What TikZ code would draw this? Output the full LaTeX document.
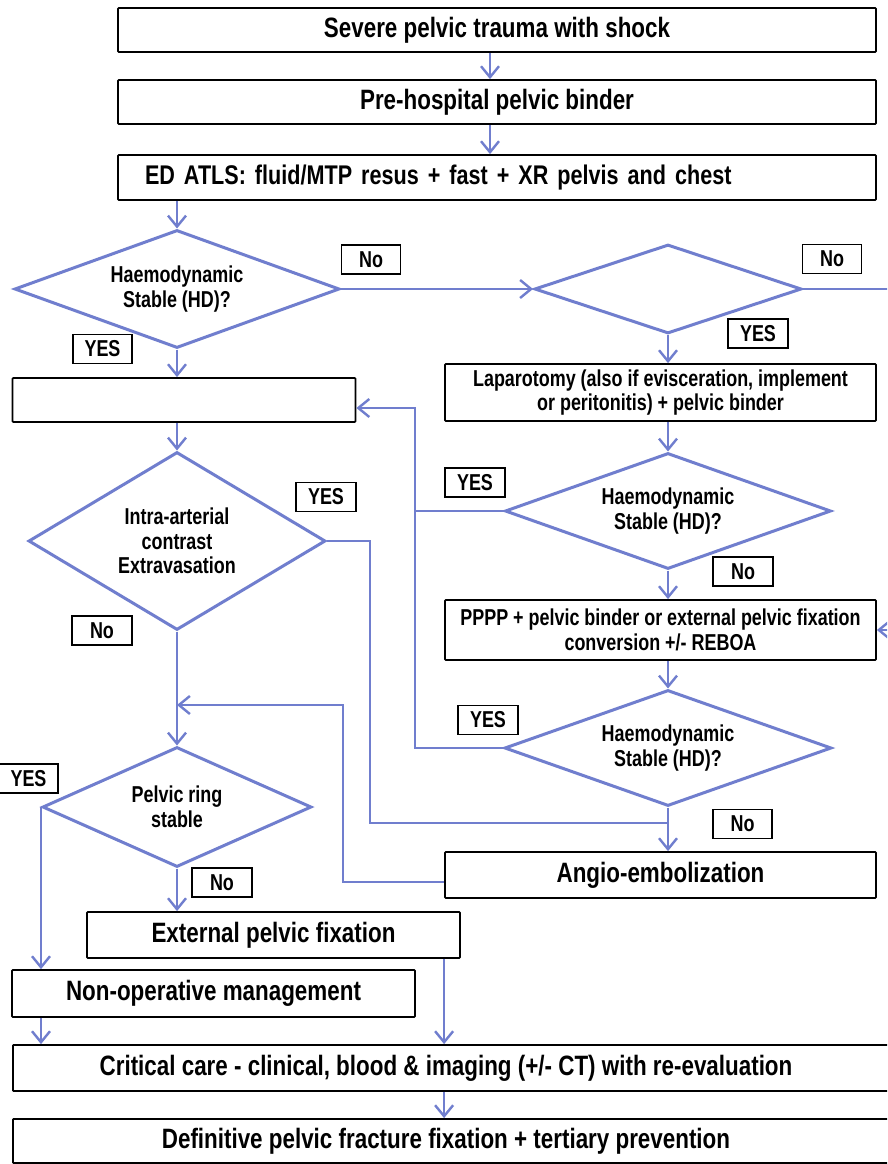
\documentclass[tikz,border=0pt]{standalone}
\usepackage{fontspec}
\setmainfont{Liberation Sans}[FakeStretch=0.8]
\newfontfamily\midfam{Liberation Sans}[FakeStretch=0.78]
\usetikzlibrary{arrows.meta,shapes.geometric,calc}
\definecolor{flowblue}{RGB}{112,126,206}
\newcommand{\bigtxt}{\fontsize{28}{32}\selectfont\bfseries}
\newcommand{\edtxt}{\fontsize{27}{32}\selectfont\bfseries}
\newcommand{\midtxt}{\midfam\fontsize{23}{24.5}\selectfont\bfseries}
\tikzset{
  box/.style={draw=black, line width=1.8pt, fill=white, rectangle, inner sep=0pt, rounded corners=0.8pt},
  dec/.style={draw=flowblue, line width=3pt, fill=white, diamond, inner sep=0pt, align=center, font=\midtxt},
  lbl/.style={draw=black, line width=1.8pt, fill=white, minimum width=59pt, minimum height=29pt, inner sep=0pt, font=\midtxt},
  conn/.style={draw=flowblue, line width=2.6pt},
  arr/.style={conn, -{Straight Barb[length=11pt,width=18pt,line width=2.4pt]}},
}
\begin{document}
\begin{tikzpicture}[x=1pt,y=-1pt]
\useasboundingbox (0,0) rectangle (887,1164);
\fill[white] (0,0) rectangle (887,1164);
\clip (0,0) rectangle (887,1164);

% top boxes
\node[box, minimum width=758pt, minimum height=44pt, font=\bigtxt] (b1) at (497,30) {Severe pelvic trauma with shock};
\node[box, minimum width=758pt, minimum height=44pt, font=\bigtxt] (b2) at (497,102) {Pre-hospital pelvic binder};
\node[box, minimum width=758pt, minimum height=45pt, font=\edtxt, inner xsep=27pt, text width=704pt, align=left] (b3) at (497,177.5) {ED ATLS: fluid/MTP resus + fast + XR pelvis and chest};

% diamonds
\node[dec, aspect=2.75, minimum width=325pt, minimum height=118pt] (d1) at (177,289) {Haemodynamic\\Stable (HD)?};
\node[dec, aspect=3, minimum width=267pt, minimum height=89pt] (d2) at (668,289) {};
\node[dec, aspect=1.67, minimum width=297pt, minimum height=178pt] (d3) at (177,541) {Intra-arterial\\contrast\\Extravasation};
\node[dec, aspect=2.8, minimum width=326pt, minimum height=116pt] (d4) at (668,511) {Haemodynamic\\Stable (HD)?};
\node[dec, aspect=2.8, minimum width=327pt, minimum height=116pt] (d5) at (668,748) {Haemodynamic\\Stable (HD)?};
\node[dec, aspect=2.24, minimum width=269pt, minimum height=120pt] (d6) at (177,807) {Pelvic ring\\stable};

% middle boxes
\node[box, minimum width=343pt, minimum height=44pt] (be) at (184,400) {};
\node[box, minimum width=431pt, minimum height=57pt, font=\midtxt, align=center] (blap) at (660.5,392.5) {Laparotomy (also if evisceration, implement\\or peritonitis) + pelvic binder};
\node[box, minimum width=431pt, minimum height=60pt, font=\midtxt, align=center] (bp) at (660.5,630) {PPPP + pelvic binder or external pelvic fixation\\conversion +/- REBOA};
\node[box, minimum width=431pt, minimum height=46pt, font=\bigtxt] (ba) at (660.5,875) {Angio-embolization};
\node[box, minimum width=373pt, minimum height=46pt, font=\bigtxt] (bx) at (273.5,935) {External pelvic fixation};
\node[box, minimum width=403pt, minimum height=47pt, font=\bigtxt] (bn) at (213.5,993.5) {Non-operative management};
\node[box, minimum width=900pt, minimum height=46pt, anchor=west] (bc) at (12,1068) {};
\node[font=\bigtxt] (tc) at (446,1068) {Critical care - clinical, blood \& imaging (+/- CT) with re-evaluation};
\node[box, minimum width=900pt, minimum height=44pt, anchor=west] (bd) at (12,1141) {};
\node[font=\bigtxt] (td) at (446,1141) {Definitive pelvic fracture fixation + tertiary prevention};

% helper coordinates
\coordinate (cx) at (490,0);
\coordinate (rin) at (892,630);
\coordinate (rout) at (892,289);
\coordinate (j1) at (370,823);
\coordinate (j2) at (343,705);
\coordinate (j3) at (415,408);

% connectors
\draw[arr] (cx |- b1.south) -- (cx |- b2.north);
\draw[arr] (cx |- b2.south) -- (cx |- b3.north);
\draw[arr] (d1.north |- b3.south) -- (d1.north);
\draw[arr] (d1.south) -- (d1.south |- be.north);
\draw[arr] (d3.north |- be.south) -- (d3.north);
\draw[arr] (d3.south) -- (d6.north);
\draw[arr] (d6.south) -- (d6.south |- bx.north);
\draw[arr] (d6.west) -- (d6.west |- bn.north);
\draw[arr] (d6.west |- bn.south) -- (d6.west |- bc.north);
\draw[arr] (blap.west |- bx.south) -- (blap.west |- bc.north);
\draw[arr] (blap.west |- bc.south) -- (blap.west |- bd.north);

\draw[arr] (d1.east) -- (d2.west);
\draw[conn] (d2.east) -- (rout);
\draw[arr] (d2.south) -- (d2.south |- blap.north);
\draw[arr] (d4.north |- blap.south) -- (d4.north);
\draw[arr] (d4.south) -- (d4.south |- bp.north);
\draw[arr] (rin) -- (bp.east);
\draw[arr] (d5.north |- bp.south) -- (d5.north);
\draw[arr] (d5.south) -- (d5.south |- ba.north);

\draw[conn] (d4.west) -- (d4.west -| j3);
\draw[arr] (d5.west) -| (j3) -- (j3 -| be.east);
\draw[conn] (d3.east) -| (j1) -- (j1 -| d5.south);
\draw[arr] ([yshift=-7pt]ba.west) -| (j2) -- (j2 -| d6.north);

% labels
\node[lbl] (l1) at (371,259.5) {No};
\node[lbl] (l2) at (832,259) {No};
\node[lbl, minimum width=60pt] (l3) at (758,333.5) {YES};
\node[lbl] (l4) at (102.5,349) {YES};
\node[lbl, minimum width=60pt] (l5) at (326,497) {YES};
\node[lbl, minimum width=60pt] (l6) at (102,630.5) {No};
\node[lbl, minimum width=60pt] (l7) at (475,482.5) {YES};
\node[lbl, minimum width=60pt] (l8) at (743,571.5) {No};
\node[lbl, minimum width=60pt] (l9) at (488,720) {YES};
\node[lbl] (l10) at (742.5,824) {No};
\node[lbl] (l11) at (28.5,778.5) {YES};
\node[lbl, minimum width=60pt] (l12) at (222,882.5) {No};
\end{tikzpicture}
\end{document}
